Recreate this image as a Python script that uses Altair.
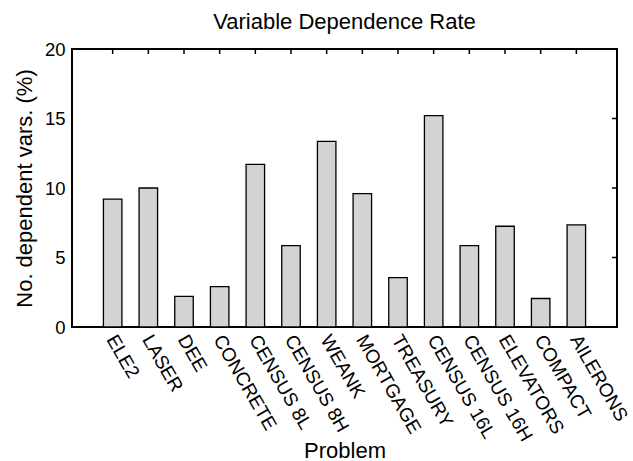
import altair as alt
import pandas as pd

problems = ["ELE2", "LASER", "DEE", "CONCRETE", "CENSUS 8L", "CENSUS 8H", "WEANK",
            "MORTGAGE", "TREASURY", "CENSUS 16L", "CENSUS 16H", "ELEVATORS",
            "COMPACT", "AILERONS"]
rates = [9.2, 10.0, 2.2, 2.9, 11.7, 5.85, 13.35, 9.6, 3.55, 15.2, 5.85, 7.25, 2.05, 7.35]
positions = list(range(1, 15))
y_ticks = [0, 5, 10, 15, 20]
right_ticks = [5, 10, 15]

FONT = "Liberation Sans"

df = pd.DataFrame({"pos": positions, "problem": problems, "rate": rates})
ticks_df = pd.DataFrame({"rate": right_ticks})

label_expr = "[" + ",".join(f"'{p}'" for p in problems) + "][datum.value - 1]"

x_scale = alt.Scale(domain=[0, 15], nice=False, zero=False)
y_scale = alt.Scale(domain=[0, 20], nice=False)

x_axis = alt.Axis(
    values=positions, labelExpr=label_expr, labelAngle=60, labelAlign="left",
    labelBaseline="middle", labelPadding=9, labelOffset=-2, ticks=False, domain=False,
    grid=False, labelFontSize=19, labelFont=FONT, labelColor="black", labelOverlap=False,
    title="Problem", titleFontSize=22, titleFont=FONT, titleFontWeight="normal",
    titleColor="black", titleX=272.5, titleY=130, titleBaseline="alphabetic")
y_axis = alt.Axis(
    values=y_ticks, ticks=False, domain=False, grid=False, labelPadding=7,
    labelFontSize=18.5, labelFont=FONT, labelColor="black",
    title="No. dependent vars. (%)", titleFontSize=22, titleFont=FONT,
    titleFontWeight="normal", titleColor="black", titleAngle=-90,
    titleX=-48, titleY=139, titleBaseline="middle")

bars = alt.Chart(df).mark_bar(size=18.5, fill="#d3d3d3", stroke="black", strokeWidth=1.3).encode(
    x=alt.X("pos:Q", scale=x_scale, axis=x_axis),
    y=alt.Y("rate:Q", scale=y_scale, axis=y_axis),
)

top_ticks = alt.Chart(df).mark_rule(color="black", strokeWidth=1.5).encode(
    x=alt.X("pos:Q", scale=x_scale, axis=x_axis),
    y=alt.value(0), y2=alt.value(5),
)

side_ticks = alt.Chart(ticks_df).mark_rule(color="black", strokeWidth=1.5).encode(
    y=alt.Y("rate:Q", scale=y_scale, axis=y_axis),
    x=alt.value(540), x2=alt.value(545),
)

chart = alt.layer(bars, top_ticks, side_ticks).properties(
    width=545, height=278,
    background="white",
    title=alt.TitleParams("Variable Dependence Rate", fontSize=22, fontWeight="normal",
                          font=FONT, color="black", offset=6, anchor="middle"),
    autosize=alt.AutoSizeParams(type="none"),
    padding={"left": 72, "top": 49, "right": 16, "bottom": 134},
).configure_view(stroke="black", strokeWidth=2)

chart.save("out.html", embed_options={"renderer": "svg", "actions": False})
